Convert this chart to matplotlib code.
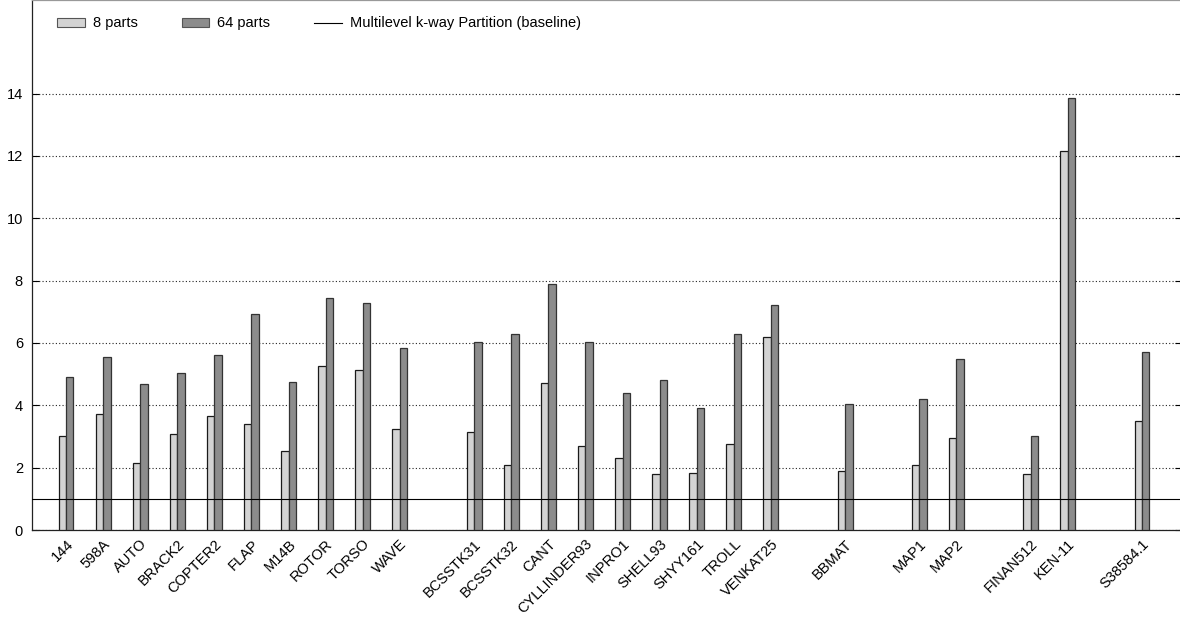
import numpy as np
import matplotlib.pyplot as plt
from matplotlib.patches import Patch
from matplotlib.lines import Line2D

plt.rcParams['font.family'] = ['Liberation Sans', 'DejaVu Sans']

# matrices, grouped by application area (blank slot between groups)
names = ['144', '598A', 'AUTO', 'BRACK2', 'COPTER2', 'FLAP', 'M14B', 'ROTOR', 'TORSO', 'WAVE',
         'BCSSTK31', 'BCSSTK32', 'CANT', 'CYLLINDER93', 'INPRO1', 'SHELL93', 'SHYY161', 'TROLL', 'VENKAT25',
         'BBMAT',
         'MAP1', 'MAP2',
         'FINAN512', 'KEN-11',
         'S38584.1']
group_sizes = [10, 9, 1, 2, 2, 1]

parts8 = [3.01, 3.71, 2.15, 3.09, 3.66, 3.41, 2.53, 5.25, 5.13, 3.23,
          3.13, 2.10, 4.70, 2.70, 2.30, 1.81, 1.83, 2.77, 6.18,
          1.88,
          2.09, 2.94,
          1.79, 12.16,
          3.50]
parts64 = [4.90, 5.55, 4.68, 5.05, 5.62, 6.92, 4.75, 7.45, 7.27, 5.83,
           6.03, 6.28, 7.90, 6.03, 4.40, 4.82, 3.90, 6.28, 7.22,
           4.03,
           4.19, 5.50,
           3.02, 13.86,
           5.72]
baseline = 1.0

# x slot for every matrix, skipping one slot between groups
xpos = []
x = 1
for g in group_sizes:
    for i in range(g):
        xpos.append(x)
        x += 1
    x += 1
xpos = np.array(xpos)

fig = plt.figure(figsize=(11.8, 6.17), dpi=100)
ax = fig.add_axes([32 / 1180, 87 / 617, 1150 / 1180, 530 / 617])

w = 0.2
ax.bar(xpos - w / 2, parts8, width=w, color='#d3d3d3', edgecolor='#1a1a1a', linewidth=0.9, zorder=3)
ax.bar(xpos + w / 2, parts64, width=w, color='#8c8c8c', edgecolor='#333333', linewidth=0.9, zorder=3)
ax.axhline(baseline, color='black', linewidth=0.8, zorder=4)

ax.set_xlim(0.084, 31.08)
ax.set_ylim(0, 17)
ax.set_yticks(np.arange(0, 15, 2))
ax.yaxis.grid(True, linestyle=(0, (1, 2)), color='#222222', linewidth=0.8)
ax.set_axisbelow(True)
ax.tick_params(axis='y', direction='in', length=5, right=True, labelsize=10.5, pad=6.5)
ax.set_xticks(xpos)
ax.set_xticklabels(names, rotation=45, ha='right', rotation_mode='anchor', fontsize=10.5)
ax.tick_params(axis='x', length=0, pad=5)
for s in ax.spines.values():
    s.set_linewidth(0.9)
    s.set_color('#222222')
ax.spines['top'].set_color('#999999')

handles = [Patch(facecolor='#d3d3d3', edgecolor='#555555', linewidth=0.8),
           Patch(facecolor='#8c8c8c', edgecolor='#555555', linewidth=0.8),
           Line2D([], [], color='black', linewidth=0.8)]
fig.legend(handles, ['8 parts', '64 parts', 'Multilevel k-way Partition (baseline)'],
           loc='upper left', bbox_to_anchor=(50 / 1180, 1 - 9 / 617), ncol=3, frameon=False,
           fontsize=10.5, borderpad=0, handlelength=1.9, handleheight=0.55,
           columnspacing=3.0, handletextpad=0.55)

fig.savefig('out.png', dpi=100)
